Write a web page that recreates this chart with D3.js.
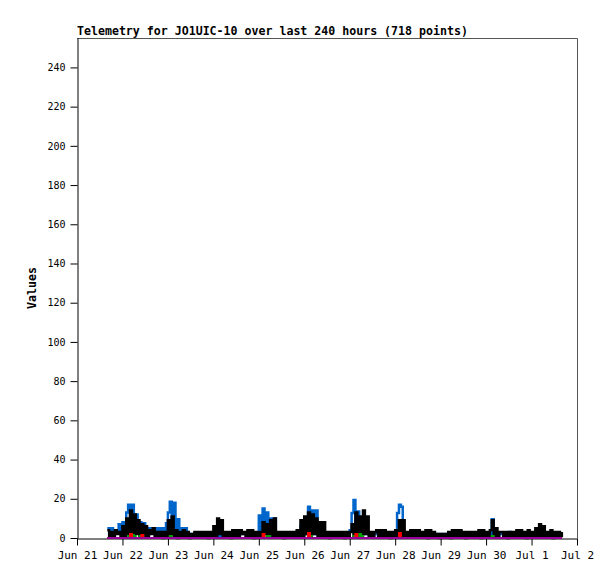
<!DOCTYPE html>
<html>
<head>
<meta charset="utf-8">
<script src="https://cdn.jsdelivr.net/npm/d3@7"></script>
<style>
  body { margin: 0; background: #fff; }
  svg { display: block; }
</style>
</head>
<body>
<svg id="chart" width="615" height="579"></svg>
<script>
// ---- data (hourly samples, starting Jun 21 16:00) ----
const titleText = "Telemetry for JO1UIC-10 over last 240 hours (718 points)";
const yLabel = "Values";
const startTime = new Date(2023, 5, 21, 16, 0);
const xDomain = [new Date(2023, 5, 21), new Date(2023, 6, 2)];
const yTicks = [0, 20, 40, 60, 80, 100, 120, 140, 160, 180, 200, 220, 240];

const blueValues = [
  5,2,5,2,3,4,7,2,
  8,3,13,17,4,17,4,12,
  4,8,3,7.5,3,5,3,5,
  3,5,3,5,3,5,3,7.5,
  13,18.5,3,18,4,9.5,3,5,
  3,5,2,2,2,2,2,2,
  2,2,2,2,2,2,2,2,
  2,1,1,1,1,1,1,1,
  1,1,1,2,2,2,2,2,
  2,2,2,2,2,2,2,2,
  11.5,2,15,3,13,2,10,2,
  10,2,2,2,2,2,2,2,
  2,2,2,2,2,2,6,2,
  10,2,16,3,14,2,14,2,
  7,2,2,2,2,2,2,2,
  2,2,2,2,2,2,2,2,
  4,12.8,19.4,3,13.5,2,2,2,
  2,2,2,2,2,2,2,2,
  2,2,2,2,2,2,2,2,
  2,12.8,17,16,3,2,2,2,
  2,2,2,2,2,2,2,2,
  2,2,2,2,2,2,2,2,
  2,2,2,2,2,2,2,2,
  2,2,3,2,2,2,2,2,
  2,2,2,2,2,2,2,2,
  2,2,2,9.5,2,2,2,2,
  2,2,2,2,3,2,2,2,
  2,2,2,2,2,2,2,2,
  2,2,2,2,2,2,2,2,
  2,2,2,2,2,2,2,2,
  2
];

const blackValues = [
  4,1,3,1,4,2,3,1,
  6,1,10,2,14,1,12,2,
  9,1,7,1,6,1,4,2,
  5,1,3,1,3,0,3,1,
  9,2,11,1,4,0,3,1,
  4,1,3,0,2,1,3,1,
  3,1,3,1,3,0,3,1,
  6,1,10,2,9,1,3,1,
  3,0,4,1,4,1,4,2,
  3,1,4,1,4,0,3,1,
  3,1,8,2,7,1,9,1,
  10,1,3,1,3,0,3,1,
  3,1,3,1,4,1,9,1,
  11,2,13,1,12,2,10,1,
  8,1,8,1,3,0,3,1,
  3,1,3,1,3,0,3,1,
  3,7,1,13,2,11,1,14,
  2,11,1,3,1,3,4,1,
  4,1,4,1,3,0,3,1,
  4,1,9,1,9,1,3,1,
  4,1,4,1,4,1,3,1,
  4,0,4,1,3,1,2,0,
  2,1,2,1,3,0,4,1,
  4,1,4,1,3,0,3,1,
  3,1,3,1,4,0,4,1,
  3,1,4,9,1,5,1,3,
  3,1,3,0,3,1,3,1,
  4,1,4,1,3,0,4,1,
  3,1,5,1,7,1,6,1,
  3,1,4,0,3,1,3,1,
  3
];

const greenValues = [
  0,0,0,0,0,0,0,0,
  0,0,0,1,2,1.5,1,0,
  0,1,1,0,0,0,0,0,
  0,0,0,0,0,0,0,0,
  0,1,0,0,0,0,0,0,
  0,0,0,0,0,0,0,0,
  0,0,0,0,0,0,0,0,
  0,0,0,0,0,0,0,0,
  0,0,0,0,0,0,0,0,
  0,0,0,0,0,0,0,0,
  0,0,0,0,1,1,0,0,
  0,0,0,0,0,0,0,0,
  0,0,0,0,0,0,0,0,
  0,0,1,1,0,0,0,0,
  0,0,0,0,0,0,0,0,
  0,0,0,0,0,0,0,0,
  0,0,1,1,0,2,1,0,
  0,0,0,0,0,0,0,0,
  0,0,0,0,0,0,0,0,
  0,0,1,0,0,0,0,0,
  0,0,0,0,0,0,0,0,
  0,0,0,0,0,0,0,0,
  0,0,0,0,0,0,0,0,
  0,0,0,0,0,0,0,0,
  0,0,0,0,0,0,0,0,
  0,0,0,1,0,0,0,0,
  0,0,0,0,0,0,0,0,
  0,0,0,0,0,0,0,0,
  0,0,0,0,0,0,0,0,
  0,0,0,0,0,0,0,0,
  0
];

const redValues = [
  0,0,0,0,0,0,0,0,
  0,0,0,0,2,0,0,0,
  0,0,1.5,0,0,0,0,0,
  0,0,0,0,0,0,0,0,
  0,0,0,0,0,0,0,0,
  0,0,0,0,0,0,0,0,
  0,0,0,0,0,0,0,0,
  0,0,0,0,0,0,0,0,
  0,0,0,0,0,0,0,0,
  0,0,0,0,0,0,0,0,
  0,0,2,0,0,0,0,0,
  0,0,0,0,0,0,0,0,
  0,0,0,0,0,0,0,0,
  0,0,2.5,0,0,0,0,0,
  0,0,0,0,0,0,0,0,
  0,0,0,0,0,0,0,0,
  0,0,0,2,0,0,0,0,
  0,0,0,0,0,0,0,0,
  0,0,0,0,0,0,0,0,
  0,0,2.5,0,0,0,0,0,
  0,0,0,0,0,0,0,0,
  0,0,0,0,0,0,0,0,
  0,0,0,0,0,0,0,0,
  0,0,0,0,0,0,0,0,
  0,0,0,0,0,0,0,0,
  0,0,0,0,0,0,0,0,
  0,0,0,0,0,0,0,0,
  0,0,0,0,0,0,0,0,
  0,0,0,0,0,0,0,0,
  0,0,0,0,0,0,0,0,
  0
];

const purpleValues = [
  0,0,0,0,0,0,0,0, 0,0,0,0,0,0,0,0, 0,0,0,0,0,0,0,0, 0,0,0,0,0,0,0,0,
  0,0,0,0,0,0,0,0, 0,0,0,0,0,0,0,0, 0,0,0,0,0,0,0,0, 0,0,0,0,0,0,0,0,
  0,0,0,0,0,0,0,0, 0,0,0,0,0,0,0,0, 0,0,0,0,0,0,0,0, 0,0,0,0,0,0,0,0,
  0,0,0,0,0,0,0,0, 0,0,0,0,0,0,0,0, 0,0,0,0,0,0,0,0, 0,0,0,0,0,0,0,0,
  0,0,0,0,0,0,0,0, 0,0,0,0,0,0,0,0, 0,0,0,0,0,0,0,0, 0,0,0,0,0,0,0,0,
  0,0,0,0,0,0,0,0, 0,0,0,0,0,0,0,0, 0,0,0,0,0,0,0,0, 0,0,0,0,0,0,0,0,
  0,0,0,0,0,0,0,0, 0,0,0,0,0,0,0,0, 0,0,0,0,0,0,0,0, 0,0,0,0,0,0,0,0,
  0,0,0,0,0,0,0,0, 0,0,0,0,0,0,0,0,
  0
];

const seriesList = [
  { name: "blue",   values: blueValues,   color: "#0066cc", width: 2.5 },
  { name: "black",  values: blackValues,  color: "#000000", width: 2.5 },
  { name: "green",  values: greenValues,  color: "#00a000", width: 2 },
  { name: "red",    values: redValues,    color: "#ff0000", width: 2 },
  { name: "purple", values: purpleValues, color: "#990099", width: 2 }
];

// ---- layout ----
const plotLeft = 77, plotRight = 577, plotTop = 38, plotBottom = 538;
const svg = d3.select("#chart");

const x = d3.scaleTime().domain(xDomain).range([plotLeft, plotRight]);
const y = d3.scaleLinear().domain([0, 255]).range([plotBottom, plotTop]);

const timeOf = i => new Date(startTime.getTime() + i * 3600 * 1000);

// frame (top & right)
svg.append("path")
  .attr("d", `M${plotLeft},${plotTop + 0.5}H${plotRight + 0.5}V${plotBottom}`)
  .attr("fill", "none")
  .attr("stroke", "#555")
  .attr("stroke-width", 1);

// axes
const yAxis = d3.axisLeft(y).tickValues(yTicks).tickSize(7).tickSizeOuter(0).tickPadding(5);
const gy = svg.append("g").attr("transform", `translate(${plotLeft + 0.5},0)`).call(yAxis);
gy.selectAll("text").style("font-family", "'DejaVu Sans Mono', monospace").style("font-size", "10px").attr("fill", "#000");
gy.selectAll("line, path").attr("stroke", "#000");

const xAxis = d3.axisBottom(x)
  .ticks(d3.timeDay.every(1))
  .tickFormat(d3.timeFormat("%b %-d"))
  .tickSize(7).tickSizeOuter(0).tickPadding(6);
const gx = svg.append("g").attr("transform", `translate(0,${plotBottom + 0.5})`).call(xAxis);
gx.selectAll("text").style("font-family", "'DejaVu Sans Mono', monospace").style("font-size", "11px").attr("fill", "#000");
gx.selectAll("line, path").attr("stroke", "#000");

// series lines (stepped)
const line = d3.line()
  .curve(d3.curveStepAfter)
  .x((d, i) => x(timeOf(i)))
  .y(d => y(d));

svg.append("g").selectAll("path.series")
  .data(seriesList)
  .join("path")
  .attr("class", "series")
  .attr("d", s => line(s.values))
  .attr("fill", "none")
  .attr("stroke", s => s.color)
  .attr("stroke-width", s => s.width)
  .attr("stroke-linejoin", "miter");

// title
svg.append("text")
  .attr("x", plotLeft)
  .attr("y", 35)
  .style("font-family", "'DejaVu Sans Mono', monospace")
  .style("font-weight", "bold")
  .style("font-size", "11.6px")
  .text(titleText);

// y label
svg.append("text")
  .attr("transform", `translate(36,${(plotTop + plotBottom) / 2}) rotate(-90)`)
  .attr("text-anchor", "middle")
  .style("font-family", "'DejaVu Sans Mono', monospace")
  .style("font-weight", "bold")
  .style("font-size", "11.6px")
  .text(yLabel);
</script>
</body>
</html>
